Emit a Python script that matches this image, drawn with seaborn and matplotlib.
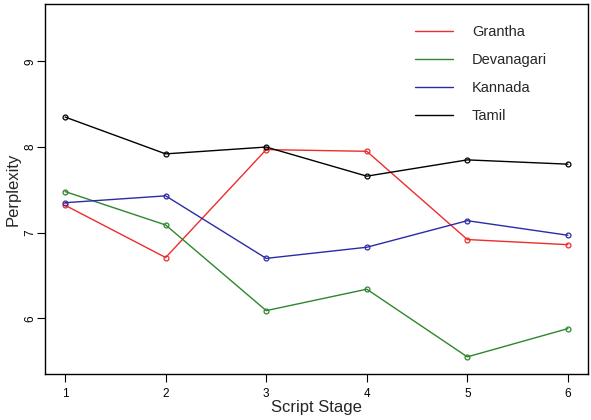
import pandas as pd
import matplotlib
matplotlib.use("Agg")
import matplotlib.pyplot as plt
import seaborn as sns
from matplotlib.lines import Line2D

# werte
stages = [1, 2, 3, 4, 5, 6]
grantha = [7.32, 6.71, 7.97, 7.95, 6.92, 6.86]
devanagari = [7.48, 7.09, 6.09, 6.34, 5.55, 5.88]
kannada = [7.35, 7.43, 6.70, 6.83, 7.14, 6.97]
tamil = [8.35, 7.92, 8.00, 7.66, 7.85, 7.80]

scripts = ["Grantha", "Devanagari", "Kannada", "Tamil"]
farben = ["#EE2C2C", "#2E862E", "#2B2BA8", "#000000"]

# long format fuer seaborn
df = pd.DataFrame({
    "Stage": stages * 4,
    "Perplexity": grantha + devanagari + kannada + tamil,
    "Script": sum([[s] * len(stages) for s in scripts], []),
})

sns.set_style("white")
plt.rcParams["font.family"] = ["Liberation Sans", "DejaVu Sans"]

fig = plt.figure(figsize=(5.91, 4.2), dpi=100)
ax = fig.add_axes([45 / 591, 1 - 374 / 420, 543 / 591, 370 / 420])

sns.lineplot(data=df, x="Stage", y="Perplexity", hue="Script", palette=farben,
             hue_order=scripts, marker="o", markersize=3.5, markerfacecolor="none",
             markeredgewidth=0.9, linewidth=1.0, ax=ax, legend=False)
# offene kreise in linienfarbe
for line in ax.lines:
    line.set_markeredgecolor(line.get_color())

ax.set_xlim(0.8, 6.2)
ax.set_ylim(5.35, 9.67)
ax.set_xticks(stages)
ax.set_yticks([6, 7, 8, 9])
ax.tick_params(axis="both", direction="out", length=6, width=0.8, labelsize=8.5,
               bottom=True, left=True, colors="black")
ax.tick_params(axis="x", pad=4)
ax.tick_params(axis="y", pad=0)
for lab in ax.get_yticklabels():
    lab.set_rotation(90)
    lab.set_va("center")
for sp in ax.spines.values():
    sp.set_visible(True)
    sp.set_color("black")
    sp.set_linewidth(1.0)

ax.set_xlabel("Script Stage", fontsize=12, labelpad=0)
ax.set_ylabel("Perplexity", fontsize=12)
ax.yaxis.set_label_coords((21 - 45) / 543, 0.5)

handles = [Line2D([0], [0], color=c, lw=1.0) for c in farben]
ax.legend(handles, scripts, loc="upper left", bbox_to_anchor=(415 / 591, 1 - 25 / 420),
          bbox_transform=fig.transFigure, frameon=False, fontsize=10.5,
          handlelength=2.6, handletextpad=1.3, labelspacing=0.97, borderpad=0,
          borderaxespad=0)

plt.savefig("out.png", dpi=100)
